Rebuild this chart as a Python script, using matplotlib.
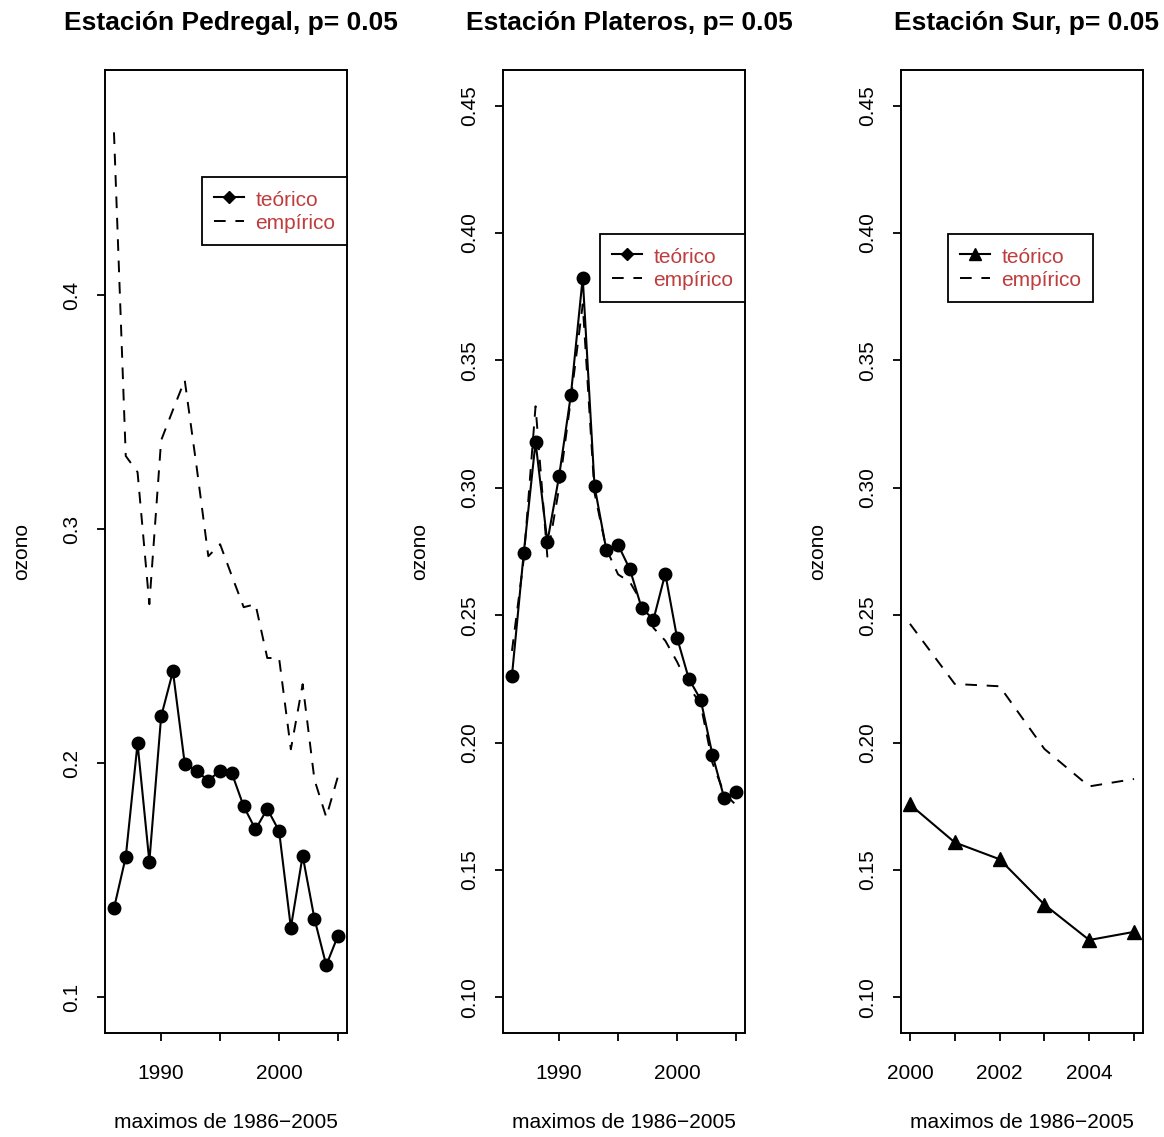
import matplotlib
matplotlib.use("Agg")
import matplotlib.pyplot as plt
from matplotlib.lines import Line2D
import numpy as np

plt.rcParams['font.family'] = ['Liberation Sans', 'DejaVu Sans']

# ---- data ----
years = np.arange(1986, 2006)
years_sur = np.arange(2000, 2006)

pedregal_teo = [0.138, 0.160, 0.2085, 0.158, 0.220, 0.2393, 0.1999, 0.1967, 0.1926, 0.1969,
                0.1957, 0.1816, 0.1718, 0.1805, 0.1711, 0.1298, 0.1605, 0.1336, 0.1137, 0.1264]
pedregal_emp = [0.4696, 0.3313, 0.3244, 0.268, 0.338, 0.351, 0.3637, 0.327, 0.2885, 0.2936,
                0.280, 0.2667, 0.268, 0.245, 0.245, 0.206, 0.2338, 0.193, 0.177, 0.1945]

plateros_teo = [0.2263, 0.2744, 0.3180, 0.2787, 0.3047, 0.3366, 0.3825, 0.3007, 0.2757, 0.2776,
                0.2680, 0.2528, 0.2483, 0.2663, 0.2411, 0.2250, 0.2169, 0.1952, 0.1782, 0.1807]
plateros_emp = [0.236, 0.272, 0.332, 0.273, 0.300, 0.335, 0.372, 0.298, 0.276, 0.266,
                0.263, 0.255, 0.245, 0.240, 0.2317, 0.222, 0.215, 0.192, 0.180, 0.1755]

sur_teo = [0.1757, 0.1608, 0.1542, 0.1364, 0.1225, 0.1257]
sur_emp = [0.2466, 0.2230, 0.2221, 0.1975, 0.1828, 0.1857]

titles = ["Estación Pedregal, p= 0.05", "Estación Plateros, p= 0.05", "Estación Sur, p= 0.05"]
labels = ["teórico", "empírico"]
xlab = "maximos de 1986\u22122005"
ylab = "ozono"

W, H = 1164, 1137
fig = plt.figure(figsize=(W / 100, H / 100), dpi=100)

lefts = [105, 503, 901]
ax_w, ax_top, ax_bot = 242, 70, 1033
txt_col = "#BF3D3D"
fs = 15


def r_ylim(lo, hi):
    pad = (hi - lo) * 0.04
    return lo - pad, hi + pad


panels = [
    (years, pedregal_teo, pedregal_emp, 'o', 'D', r_ylim(0.1, 0.481),
     [0.1, 0.2, 0.3, 0.4], ["0.1", "0.2", "0.3", "0.4"],
     [1990, 1995, 2000, 2005], ["1990", "", "2000", ""], (1.0, (ax_bot - 177) / (ax_bot - ax_top))),
    (years, plateros_teo, plateros_emp, 'o', 'D', r_ylim(0.1, 0.45),
     np.arange(0.10, 0.451, 0.05), ["%.2f" % v for v in np.arange(0.10, 0.451, 0.05)],
     [1990, 1995, 2000, 2005], ["1990", "", "2000", ""], (1.0, (ax_bot - 234) / (ax_bot - ax_top))),
    (years_sur, sur_teo, sur_emp, '^', '^', r_ylim(0.1, 0.45),
     np.arange(0.10, 0.451, 0.05), ["%.2f" % v for v in np.arange(0.10, 0.451, 0.05)],
     list(range(2000, 2006)), ["2000", "", "2002", "", "2004", ""],
     ((1093 - 901) / ax_w, (ax_bot - 234) / (ax_bot - ax_top))),
]

for i, (x, teo, emp, mk, legmk, ylim, yt, ytl, xt, xtl, leg_anchor) in enumerate(panels):
    ax = fig.add_axes([lefts[i] / W, (H - ax_bot) / H, ax_w / W, (ax_bot - ax_top) / H])
    ax.plot(x, teo, color='black', lw=1.5, marker=mk, ms=9 if mk == 'o' else 9.5)
    ax.plot(x, emp, color='black', lw=1.4, dashes=[6, 5])

    pad = (x[-1] - x[0]) * 0.04
    ax.set_xlim(x[0] - pad, x[-1] + pad)
    ax.set_ylim(*ylim)

    ax.set_yticks(yt)
    ax.set_yticklabels(ytl, rotation=90, va='center', fontsize=fs)
    ax.set_xticks(xt)
    ax.set_xticklabels(xtl, fontsize=fs)
    ax.tick_params(axis='both', direction='out', length=6, width=1.3, color='black')
    ax.tick_params(axis='x', pad=16)
    ax.tick_params(axis='y', pad=11)
    for s in ax.spines.values():
        s.set_linewidth(1.4)
        s.set_color('black')

    ax.set_xlabel(xlab, fontsize=fs)
    ax.xaxis.set_label_coords(0.5, -(1113 - ax_bot) / (ax_bot - ax_top))
    ax.set_ylabel(ylab, fontsize=fs)
    ax.yaxis.set_label_coords(-(105 - 31) / ax_w, 0.5)

    fig.text((lefts[i] + ax_w / 2 + 5) / W, 1 - 30 / H, titles[i], fontsize=19,
             fontweight='bold', ha='center', va='baseline')

    handles = [Line2D([], [], color='black', lw=1.5, marker=legmk,
                      ms=6 if legmk == 'D' else 9),
               Line2D([], [], color='black', lw=1.4, dashes=[6, 5])]
    leg = ax.legend(handles, labels, loc='upper right', bbox_to_anchor=leg_anchor,
                    borderaxespad=0, fontsize=15, labelcolor=txt_col, fancybox=False,
                    framealpha=1, edgecolor='black', handlelength=1.45, handletextpad=0.55,
                    handleheight=1.1, borderpad=0.55, labelspacing=0.12)
    leg.get_frame().set_linewidth(1.3)

fig.savefig("out.png", dpi=100)
